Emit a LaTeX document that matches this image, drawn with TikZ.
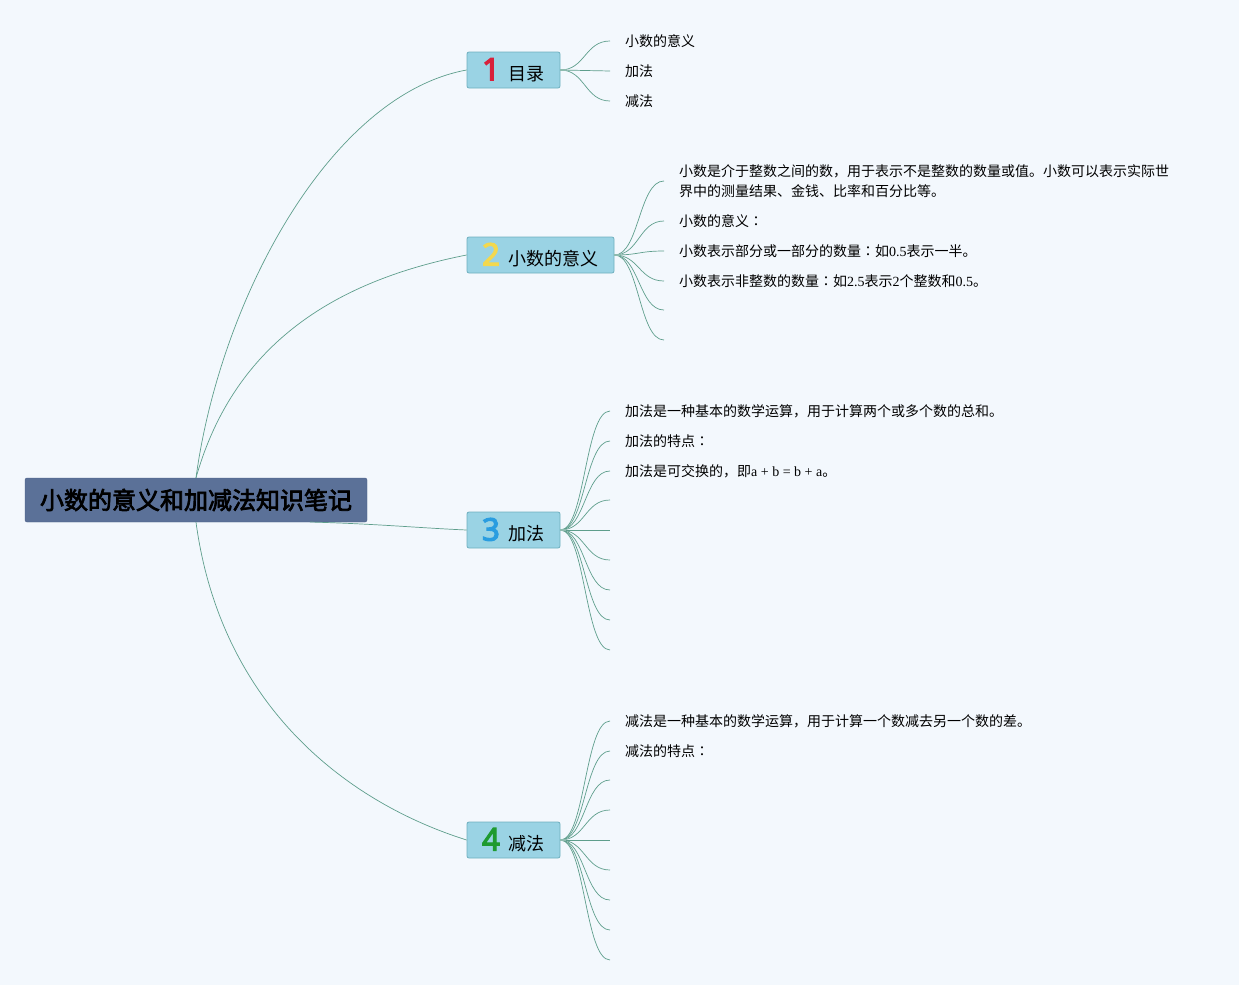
\documentclass[tikz,border=0pt]{standalone}
\usepackage{fontspec}
\setmainfont{Liberation Serif}
\newfontfamily\cjk[AutoFakeBold=3]{Noto Sans CJK SC}
\newfontfamily\cjktc{Noto Sans CJK TC}
\newfontfamily\numfont[FakeBold=4]{Noto Sans}
\newcommand{\cc}{{\cjktc ：}}
\newcommand{\tnum}[2]{\textcolor{#1}{\numfont\fontsize{31}{31}\selectfont #2}\hspace{9pt}}
\definecolor{bgc}{HTML}{F3F8FD}
\definecolor{rootfill}{HTML}{5B7198}
\definecolor{rootdraw}{HTML}{4B6088}
\definecolor{topfill}{HTML}{9AD3E4}
\definecolor{topdraw}{HTML}{6FB0BF}
\definecolor{linkc}{HTML}{5E9E8C}
\definecolor{n1}{HTML}{D8213B}
\definecolor{n2}{HTML}{F3D84E}
\definecolor{n3}{HTML}{2A9DE0}
\definecolor{n4}{HTML}{1F9A30}
\begin{document}
\begin{tikzpicture}[x=1pt,y=-1pt,
  root/.style={draw=rootdraw,fill=rootfill,rounded corners=2pt,minimum width=342pt,minimum height=44pt,inner sep=0pt,font=\cjk\bfseries\fontsize{24}{28}\selectfont},
  topic/.style={draw=topdraw,line width=0.8pt,fill=topfill,rounded corners=2pt,minimum height=36pt,inner sep=0pt,font=\cjk\fontsize{18}{22}\selectfont},
  leaf/.style={anchor=west,inner xsep=15pt,inner ysep=0pt,font=\fontsize{14}{20}\selectfont},
  link/.style={draw=linkc,line width=0.7pt},
  stub/.style={draw=linkc!70,line width=2pt}]
\fill[bgc] (0,0) rectangle (1239,985);
\useasboundingbox (0,0) rectangle (1239,985);

% root
\node[root] (root) at (196,500) {小数的意义和加减法知识笔记};

% topics
\node[topic,minimum width=93pt] (t1) at (513.5,70) {\tnum{n1}{1}目录};
\node[topic,minimum width=147pt] (t2) at (540.5,255) {\tnum{n2}{2}小数的意义};
\node[topic,minimum width=93pt] (t3) at (513.5,530) {\tnum{n3}{3}加法};
\node[topic,minimum width=93pt] (t4) at (513.5,840) {\tnum{n4}{4}减法};

% root links
\draw[link] (root.north) .. controls (220,300) and (330,95) .. (t1.west);
\draw[link] (root.north) .. controls (235,340) and (340,280) .. (t2.west);
\coordinate (r3) at (310,522);
\draw[link] (r3) .. controls (380,524) and (420,528) .. (t3.west);
\draw[link] (root.south) .. controls (220,700) and (340,800) .. (t4.west);

% topic 1 children
\node[leaf] (c11) at (610,41) {\cjk 小数的意义};
\node[leaf] (c12) at (610,71) {\cjk 加法};
\node[leaf] (c13) at (610,101) {\cjk 减法};
\foreach \c in {c11,c12,c13}{
  \draw[link] (t1.east) .. controls (585,70) and (585,0 |- \c.west) .. (\c.west);
}

% topic 2 children
\node[leaf,align=left] (c21) at (664,181) {\cjk 小数是介于整数之间的数，用于表示不是整数的数量或值。小数可以表示实际世\\\cjk 界中的测量结果、金钱、比率和百分比等。};
\node[leaf] (c22) at (664,221) {{\cjk 小数的意义}\cc};
\node[leaf] (c23) at (664,251) {{\cjk 小数表示部分或一部分的数量}\cc{\cjk 如}0.5{\cjk 表示一半。}};
\node[leaf] (c24) at (664,281) {{\cjk 小数表示非整数的数量}\cc{\cjk 如}2.5{\cjk 表示}2{\cjk 个整数和}0.5{\cjk 。}};
\coordinate (c25) at (664,310);
\coordinate (c26) at (664,340);
\foreach \c in {c21,c22,c23,c24}{
  \draw[link] (t2.east) .. controls (639,255) and (639,0 |- \c.west) .. (\c.west);
}
\foreach \c in {c25,c26}{
  \draw[link] (t2.east) .. controls (639,255) and (639,0 |- \c) .. (\c);
}

% topic 3 children
\node[leaf] (c31) at (610,411) {\cjk 加法是一种基本的数学运算，用于计算两个或多个数的总和。};
\node[leaf] (c32) at (610,441) {{\cjk 加法的特点}\cc};
\node[leaf] (c33) at (610,471) {{\cjk 加法是可交换的，即}a + b = b + a{\cjk 。}};
\coordinate (c34) at (610,500);
\coordinate (c35) at (610,530);
\coordinate (c36) at (610,560);
\coordinate (c37) at (610,590);
\coordinate (c38) at (610,620);
\coordinate (c39) at (610,650);
\foreach \c in {c31,c32,c33}{
  \draw[link] (t3.east) .. controls (585,530) and (585,0 |- \c.west) .. (\c.west);
}
\foreach \c in {c34,c35,c36,c37,c38,c39}{
  \draw[link] (t3.east) .. controls (585,530) and (585,0 |- \c) .. (\c);
}

% topic 4 children
\node[leaf] (c41) at (610,721) {\cjk 减法是一种基本的数学运算，用于计算一个数减去另一个数的差。};
\node[leaf] (c42) at (610,751) {{\cjk 减法的特点}\cc};
\coordinate (c43) at (610,780);
\coordinate (c44) at (610,810);
\coordinate (c45) at (610,840);
\coordinate (c46) at (610,870);
\coordinate (c47) at (610,900);
\coordinate (c48) at (610,930);
\coordinate (c49) at (610,960);
\foreach \c in {c41,c42}{
  \draw[link] (t4.east) .. controls (585,840) and (585,0 |- \c.west) .. (\c.west);
}
\foreach \c in {c43,c44,c45,c46,c47,c48,c49}{
  \draw[link] (t4.east) .. controls (585,840) and (585,0 |- \c) .. (\c);
}

% stubs
\draw[stub] (t1.east) -- ++(6,0);
\draw[stub] (t2.east) -- ++(6,0);
\draw[stub] (t3.east) -- ++(6,0);
\draw[stub] (t4.east) -- ++(6,0);
\end{tikzpicture}
\end{document}
